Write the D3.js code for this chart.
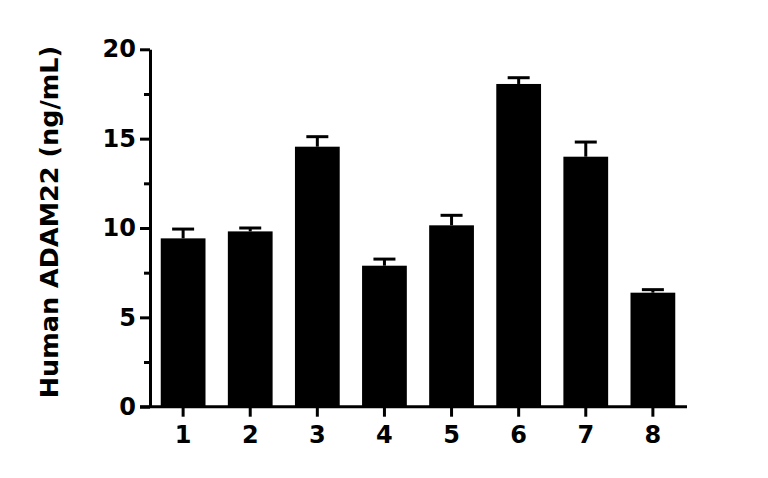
<!DOCTYPE html>
<html lang="en">
<head>
    <meta charset="UTF-8">
    <script src="https://d3js.org/d3.v7.min.js"></script>
    <title>ADAM22</title>
    <style>
        body { margin: 0; background: #fff; }
        text { font-family: "DejaVu Sans", sans-serif; font-weight: bold; fill: #000; }
    </style>
</head>
<body>
    <div id="chart"></div>
    <script>
        // Data
        const samples = ["1", "2", "3", "4", "5", "6", "7", "8"];
        const means = [9.42, 9.81, 14.55, 7.89, 10.15, 18.06, 13.99, 6.38];
        const errors = [0.52, 0.19, 0.56, 0.37, 0.56, 0.35, 0.82, 0.17];
        const yTicks = [0, 5, 10, 15, 20];
        const yMinorTicks = [2.5, 7.5, 12.5, 17.5];

        const width = 768;
        const height = 478;
        const plotLeft = 150, plotRight = 686, plotTop = 49.3, plotBottom = 406.7;

        const svg = d3.select("#chart")
            .append("svg")
            .attr("width", width)
            .attr("height", height);

        // Scales
        const xScale = d3.scaleBand()
            .domain(samples)
            .range([plotLeft, plotRight])
            .paddingInner(0.333)
            .paddingOuter(0.16);
        const yScale = d3.scaleLinear()
            .domain([0, 20])
            .range([plotBottom, plotTop]);

        // Bars
        svg.selectAll("rect.bar")
            .data(samples)
            .join("rect")
            .attr("class", "bar")
            .attr("x", d => xScale(d))
            .attr("width", xScale.bandwidth())
            .attr("y", (d, i) => yScale(means[i]))
            .attr("height", (d, i) => yScale(0) - yScale(means[i]))
            .attr("fill", "#000");

        // Error bars (upper only)
        const capW = 22;
        const err = svg.append("g")
            .attr("stroke", "#000")
            .attr("stroke-width", 3);
        samples.forEach((d, i) => {
            const cx = xScale(d) + xScale.bandwidth() / 2;
            err.append("line")
                .attr("x1", cx).attr("x2", cx)
                .attr("y1", yScale(means[i])).attr("y2", yScale(means[i] + errors[i]));
            err.append("line")
                .attr("x1", cx - capW / 2).attr("x2", cx + capW / 2)
                .attr("y1", yScale(means[i] + errors[i])).attr("y2", yScale(means[i] + errors[i]));
        });

        // Y axis
        const yAxis = d3.axisLeft(yScale)
            .tickValues(yTicks)
            .tickSize(10)
            .tickPadding(4)
            .tickSizeOuter(0);
        const gy = svg.append("g")
            .attr("transform", `translate(${plotLeft},0)`)
            .call(yAxis);
        gy.selectAll("path, line").attr("stroke", "#000").attr("stroke-width", 3);
        gy.selectAll("text").style("font-size", "24px");

        const yMinor = d3.axisLeft(yScale)
            .tickValues(yMinorTicks)
            .tickSize(6)
            .tickFormat("")
            .tickSizeOuter(0);
        const gym = svg.append("g")
            .attr("transform", `translate(${plotLeft},0)`)
            .call(yMinor);
        gym.select("path").remove();
        gym.selectAll("line").attr("stroke", "#000").attr("stroke-width", 3);

        // X axis
        const xAxis = d3.axisBottom(xScale)
            .tickSize(10)
            .tickPadding(9)
            .tickSizeOuter(0);
        const gx = svg.append("g")
            .attr("transform", `translate(0,${plotBottom})`)
            .call(xAxis);
        gx.select("path").attr("d", `M${plotLeft - 10},0H${plotRight + 1}`);
        gx.selectAll("path, line").attr("stroke", "#000").attr("stroke-width", 3);
        gx.selectAll("text").style("font-size", "24px");

        // Axis title
        svg.append("text")
            .attr("transform", "rotate(-90)")
            .attr("x", -222)
            .attr("y", 58)
            .attr("text-anchor", "middle")
            .style("font-size", "25.5px")
            .text("Human ADAM22 (ng/mL)");
    </script>
</body>
</html>
